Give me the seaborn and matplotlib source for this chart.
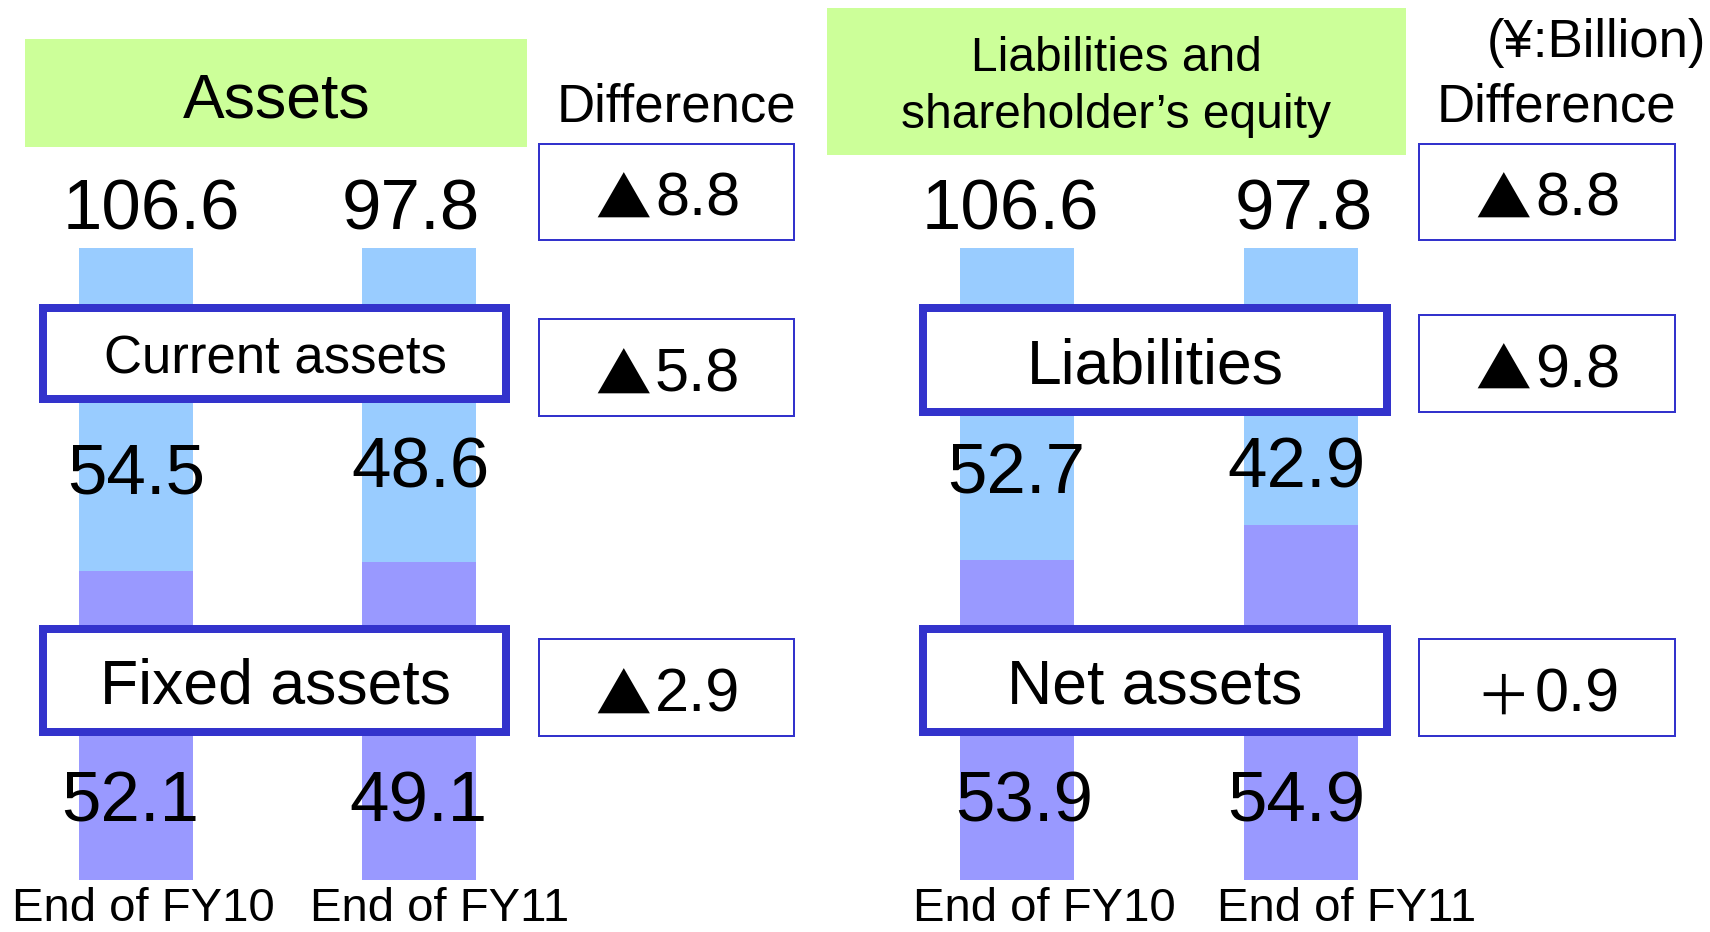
#!/usr/bin/env python3
"""Balance sheet comparison, end of FY10 vs end of FY11."""

import matplotlib.pyplot as plt
from matplotlib.patches import Rectangle
import seaborn as sns

# ---- data (¥ billion) ----
PERIODS = ["End of FY10", "End of FY11"]
TOTAL = [106.6, 97.8]
CURRENT_ASSETS = [54.5, 48.6]
FIXED_ASSETS = [52.1, 49.1]
LIABILITIES = [52.7, 42.9]
NET_ASSETS = [53.9, 54.9]
ASSETS_DIFF = [-8.8, -5.8, -2.9]
LIAB_DIFF = [-8.8, -9.8, 0.9]

LIGHT_BLUE = "#99CCFF"
PURPLE = "#9999FF"
GREEN = "#CCFF99"
BORDER = "#3333CC"

W, H = 1710, 932
FONT = ["Liberation Sans", "Noto Sans CJK JP", "DejaVu Sans"]
CJK = ["Noto Sans CJK JP", "DejaVu Sans"]


def bars(fig, left_px, upper, lower):
    """Stacked share bars (upper part light blue, lower part purple)."""
    spacing = 283.5
    ax = fig.add_axes([left_px / W, 52 / H, 1.9 * spacing / W, 632 / H])
    lower_share = [100 * lo / (up + lo) for up, lo in zip(upper, lower)]
    sns.barplot(x=PERIODS, y=[100, 100], color=LIGHT_BLUE, saturation=1,
                width=0.402, ax=ax, linewidth=0)
    sns.barplot(x=PERIODS, y=lower_share, color=PURPLE, saturation=1,
                width=0.402, ax=ax, linewidth=0)
    ax.set_xlim(-0.45, 1.45)
    ax.set_ylim(0, 100)
    ax.axis("off")
    return ax


def txt(ax, x, y, s, size, ha="center", va="baseline", family=FONT):
    ax.text(x, y, s, fontsize=size, ha=ha, va=va, family=family, color="black")


def box(ax, x0, y0, x1, y1, lw_px, face="white", edge=BORDER):
    ins = lw_px / 2
    ax.add_patch(Rectangle((x0 + ins, y0 + ins), x1 - x0 - lw_px, y1 - y0 - lw_px,
                           facecolor=face, edgecolor=edge, linewidth=lw_px * 0.72))


def diff(ax, x_sym, x_num, base, v):
    sym = "▲" if v < 0 else "＋"
    txt(ax, x_sym, base + 3, sym, 40, family=CJK)
    txt(ax, x_num, base, f"{abs(v):.1f}", 44, ha="left")


def main():
    sns.set_theme(style="white")
    fig = plt.figure(figsize=(W / 100, H / 100), dpi=100)

    bars(fig, 8.4, CURRENT_ASSETS, FIXED_ASSETS)
    bars(fig, 889.9, LIABILITIES, NET_ASSETS)

    ov = fig.add_axes([0, 0, 1, 1], zorder=5)
    ov.set_xlim(0, W)
    ov.set_ylim(H, 0)
    ov.axis("off")
    ov.patch.set_alpha(0)

    # headers
    ov.add_patch(Rectangle((25, 39), 502, 108, facecolor=GREEN, edgecolor="none"))
    ov.add_patch(Rectangle((827, 8), 579, 147, facecolor=GREEN, edgecolor="none"))
    txt(ov, 277, 117, "Assets", 45)
    txt(ov, 1116, 71, "Liabilities and", 34.5)
    txt(ov, 1116, 128, "shareholder’s equity", 34.5)
    txt(ov, 676, 122, "Difference", 38)
    txt(ov, 1556, 121, "Difference", 38)
    txt(ov, 1596, 57, "(¥:Billion)", 38)

    # section label boxes
    box(ov, 39, 304, 510, 403, 8)
    box(ov, 39, 625, 510, 736, 8)
    box(ov, 919, 304, 1391, 416, 8)
    box(ov, 919, 625, 1391, 736, 8)
    txt(ov, 275, 374, "Current assets", 38)
    txt(ov, 275, 704, "Fixed assets", 45)
    txt(ov, 1155, 384, "Liabilities", 45)
    txt(ov, 1155, 704, "Net assets", 45)

    # difference boxes
    rows_l = [(143, 241), (318, 417), (638, 737)]
    rows_r = [(143, 241), (314, 413), (638, 737)]
    base_l = [216, 392, 712]
    base_r = [216, 387, 712]
    for (y0, y1), b, v in zip(rows_l, base_l, ASSETS_DIFF):
        box(ov, 538, y0, 795, y1, 2)
        diff(ov, 623, 655, b, v)
    for (y0, y1), b, v in zip(rows_r, base_r, LIAB_DIFF):
        box(ov, 1418, y0, 1676, y1, 2)
        diff(ov, 1503, 1535, b, v)

    # values
    for x, v in zip([151, 411], TOTAL):
        txt(ov, x, 230, f"{v:.1f}", 51)
    for x, v in zip([1010, 1304], TOTAL):
        txt(ov, x, 230, f"{v:.1f}", 51)
    for x, b, v in zip([136, 420], [494, 488], CURRENT_ASSETS):
        txt(ov, x, b, f"{v:.1f}", 51)
    for x, b, v in zip([1016, 1296], [494, 488], LIABILITIES):
        txt(ov, x, b, f"{v:.1f}", 51)
    for x, v in zip([130, 418], FIXED_ASSETS):
        txt(ov, x, 821, f"{v:.1f}", 51)
    for x, v in zip([1024, 1296], NET_ASSETS):
        txt(ov, x, 821, f"{v:.1f}", 51)

    # period labels
    for x, p in zip([143, 440, 1044, 1347], PERIODS * 2):
        txt(ov, x, 931, p, 34, va="bottom")

    fig.savefig("out.png", dpi=100)
    plt.close(fig)


if __name__ == "__main__":
    main()
